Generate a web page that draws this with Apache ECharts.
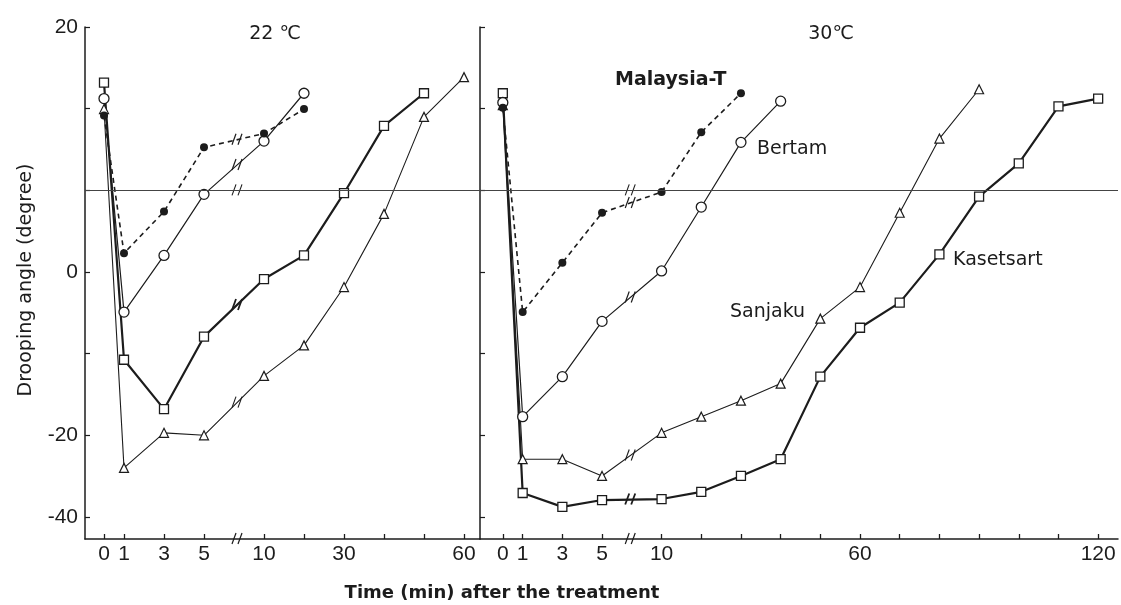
<!DOCTYPE html>
<html><head><meta charset="utf-8">
<script src="https://cdn.jsdelivr.net/npm/echarts@6/dist/echarts.min.js"></script>
<style>html,body{margin:0;padding:0;background:#fff}#c{width:1121px;height:605px}</style>
</head><body><div id="c"></div>
<script>
// ---- tick labels ----
const X_TICKS_22 = [0,1,3,5,10,20,30,40,50,60];
const X_LABELS_22 = [0,1,3,5,10,30,60];
const X_TICKS_30 = [0,1,3,5,10,20,30,40,50,60,70,80,90,100,110,120];
const X_LABELS_30 = [0,1,3,5,10,60,120];
const Y_LABELS = [20,0,-20,-40];
const Y_TICKS = [20,14.03,7.44,0,-8.77,-20,-40];
const REF_ANGLE = 7.44;

// ---- 22 °C ----
const MAL22_T = [0,1,3,5,10,20];
const MAL22_V = [13.5,1.8,5.6,11.0,12.1,14.0];
const BER22_T = [0,1,3,5,10,20];
const BER22_V = [14.8,-4.1,1.6,7.1,11.5,15.2];
const KAS22_T = [0,1,3,5,10,20,30,40,50];
const KAS22_V = [16.0,-9.5,-16.0,-6.8,-0.7,1.6,7.2,12.7,15.2];
const SAN22_T = [0,1,3,5,10,20,30,40,50,60];
const SAN22_V = [14.0,-25.9,-19.6,-20.0,-11.5,-7.8,-1.5,5.4,13.4,16.4];

// ---- 30 °C ----
const MAL30_T = [0,1,3,5,10,20,30];
const MAL30_V = [14.1,-4.1,0.9,5.5,7.3,12.2,15.2];
const BER30_T = [0,1,3,5,10,20,30,40];
const BER30_V = [14.5,-17.1,-11.6,-5.1,0.1,6.0,11.4,14.6];
const SAN30_T = [0,1,3,5,10,20,30,40,50,60,70,80,90];
const SAN30_V = [14.3,-24.2,-24.2,-27.6,-19.6,-17.1,-14.8,-12.5,-4.8,-1.5,5.5,11.7,15.5];
const KAS30_T = [0,1,3,5,10,20,30,40,50,60,70,80,90,100,110,120];
const KAS30_V = [15.2,-31.7,-35.9,-33.7,-33.4,-31.4,-27.6,-24.2,-11.6,-5.8,-3.1,1.7,6.9,9.7,14.2,14.8];

// ---- axis transforms (broken time axis, non-linear angle axis) ----
function xu(t){ return t <= 5 ? t : 8 + (t - 10) / 5; }
function tu(u){ return u <= 5 ? u : 10 + (u - 8) * 5; }
function yf(a){ return ((a + 50) * (a + 50) - 2500) / 800; }
function fa(f){ return -50 + Math.sqrt(2500 + 800 * f); }
function pts(T, V){ return T.map((t, i) => [xu(t), yf(V[i])]); }

const INK = '#1c1c1c';
const NUMFONT = 'Liberation Sans';
const BREAK_U = [6.65, 6.42];

function ser(name, T, V, g, kind){
  const s = {type:'line', name, xAxisIndex:g, yAxisIndex:g, data:pts(T, V),
    animation:false, emphasis:{disabled:true}, z: 3};
  if (kind === 'mal'){
    s.symbol = 'circle'; s.symbolSize = 8;
    s.itemStyle = {color:INK, borderWidth:0};
    s.lineStyle = {color:INK, width:1.6, type:[5,4]};
  } else if (kind === 'ber'){
    s.symbol = 'circle'; s.symbolSize = 10;
    s.itemStyle = {color:'#fff', borderColor:INK, borderWidth:1.3};
    s.lineStyle = {color:INK, width:1.2};
  } else if (kind === 'kas'){
    s.symbol = 'rect'; s.symbolSize = 9;
    s.itemStyle = {color:'#fff', borderColor:INK, borderWidth:1.3};
    s.lineStyle = {color:INK, width:2.2};
  } else {
    s.symbol = 'triangle'; s.symbolSize = 9;
    s.itemStyle = {color:'#fff', borderColor:INK, borderWidth:1.2};
    s.lineStyle = {color:INK, width:1.1};
  }
  return s;
}

function xAxis(g, min, max, ticks, labels){
  return {type:'value', gridIndex:g, min, max,
    axisLine:{show:true, onZero:false, lineStyle:{color:INK, width:1.5}},
    axisTick:{show:true, inside:true, length:5, customValues:ticks.map(xu), lineStyle:{color:INK, width:1.3}},
    axisLabel:{show:true, customValues:labels.map(xu), formatter:v => String(Math.round(tu(v))),
      color:INK, fontSize:21, fontFamily:NUMFONT, margin:5},
    splitLine:{show:false}};
}
function yAxis(g, showLabels){
  return {type:'value', gridIndex:g, min:-3.27, max:3,
    axisLine:{show:true, onZero:false, lineStyle:{color:INK, width:1.5}},
    axisTick:{show:true, inside:true, length:5, customValues:Y_TICKS.map(yf), lineStyle:{color:INK, width:1.2}},
    axisLabel:{show:showLabels, customValues:Y_LABELS.map(yf), formatter:v => String(Math.round(fa(v))),
      color:INK, fontSize:21, fontFamily:NUMFONT, margin:7},
    splitLine:{show:false}};
}

const refLine = {silent:true, symbol:'none', label:{show:false},
  lineStyle:{color:'#444', width:1.2, type:'solid'}, data:[{yAxis:yf(REF_ANGLE)}]};

const series = [
  ser('Sanjaku', SAN22_T, SAN22_V, 0, 'san'),
  ser('Kasetsart', KAS22_T, KAS22_V, 0, 'kas'),
  ser('Bertam', BER22_T, BER22_V, 0, 'ber'),
  ser('Malaysia-T', MAL22_T, MAL22_V, 0, 'mal'),
  ser('Sanjaku', SAN30_T, SAN30_V, 1, 'san'),
  ser('Kasetsart', KAS30_T, KAS30_V, 1, 'kas'),
  ser('Bertam', BER30_T, BER30_V, 1, 'ber'),
  ser('Malaysia-T', MAL30_T, MAL30_V, 1, 'mal')
];
series[0].markLine = refLine;
series[4].markLine = refLine;

const TXT = 'DejaVu Sans';
function label(text, x, y, size, weight, align){
  return {type:'text', x, y, z:10, style:{text, fill:INK, font:(weight||'normal') + ' ' + size + 'px "' + TXT + '"',
    textAlign:align || 'left', textVerticalAlign:'middle'}};
}

const chart = echarts.init(document.getElementById('c'), null, {renderer:'canvas'});
chart.setOption({
  backgroundColor:'#fff',
  animation:false,
  grid:[
    {left:85, right:641, top:27, bottom:66, containLabel:false},
    {left:480, right:3, top:27, bottom:66, containLabel:false}
  ],
  xAxis:[ xAxis(0, -0.95, 18.8, X_TICKS_22, X_LABELS_22), xAxis(1, -1.15, 31.0, X_TICKS_30, X_LABELS_30) ],
  yAxis:[ yAxis(0, true), yAxis(1, false) ],
  series,
  graphic:[
    label('22 ℃', 275, 34, 19, 'normal', 'center'),
    label('30℃', 831, 34, 19, 'normal', 'center'),
    label('Malaysia-T', 615, 80, 19, 'bold', 'left'),
    label('Bertam', 757, 149, 19, 'normal', 'left'),
    label('Sanjaku', 730, 312, 19, 'normal', 'left'),
    label('Kasetsart', 953, 260, 19, 'normal', 'left'),
    label('Time (min) after the treatment', 502, 593, 18, 'bold', 'center'),
    {type:'text', x:26, y:280, rotation:Math.PI/2, z:10,
      style:{text:'Drooping angle (degree)', fill:INK, font:'normal 19px "' + TXT + '"', textAlign:'center', textVerticalAlign:'middle'}}
  ]
});

// break marks ("//") placed through the axis scales
function slashes(x, y, w){
  return {type:'group', x, y, z:20, children:[
    {type:'rect', shape:{x:-2, y:-3, width:4, height:6}, style:{fill:'#fff'}},
    {type:'line', shape:{x1:-5, y1:5, x2:-1, y2:-6}, style:{stroke:INK, lineWidth:w}},
    {type:'line', shape:{x1:1, y1:5, x2:5, y2:-6}, style:{stroke:INK, lineWidth:w}}
  ]};
}
function axisBreak(g){
  const p = chart.convertToPixel({gridIndex:g}, [BREAK_U[g], -3.27]);
  return slashes(p[0], p[1], 1.2);
}
function lineBreak(g, T, V, w){
  const a = chart.convertToPixel({gridIndex:g}, [xu(5), yf(V[T.indexOf(5)])]);
  const b = chart.convertToPixel({gridIndex:g}, [xu(10), yf(V[T.indexOf(10)])]);
  const px = chart.convertToPixel({gridIndex:g}, [BREAK_U[g], 0])[0];
  const r = (px - a[0]) / (b[0] - a[0]);
  return slashes(px, a[1] + r * (b[1] - a[1]), w);
}
function refBreak(g){
  const p = chart.convertToPixel({gridIndex:g}, [BREAK_U[g], yf(REF_ANGLE)]);
  return slashes(p[0], p[1], 1.1);
}
const extra = [
  axisBreak(0), axisBreak(1), refBreak(0), refBreak(1),
  lineBreak(0, MAL22_T, MAL22_V, 1.2), lineBreak(0, BER22_T, BER22_V, 1.2),
  lineBreak(0, KAS22_T, KAS22_V, 1.8), lineBreak(0, SAN22_T, SAN22_V, 1.1),
  lineBreak(1, MAL30_T, MAL30_V, 1.2), lineBreak(1, BER30_T, BER30_V, 1.2),
  lineBreak(1, KAS30_T, KAS30_V, 1.8), lineBreak(1, SAN30_T, SAN30_V, 1.1)
];
const opt = chart.getOption();
chart.setOption({graphic: opt.graphic[0].elements.concat(extra)});
</script>
</body></html>
